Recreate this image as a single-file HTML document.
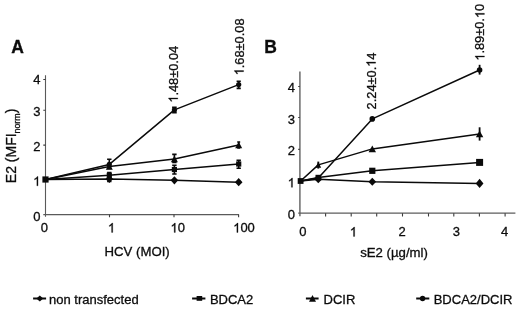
<!DOCTYPE html>
<html><head><meta charset="utf-8"><title>Figure</title>
<style>
html,body{margin:0;padding:0;background:#fff;}
body{width:520px;height:310px;overflow:hidden;font-family:"Liberation Sans",sans-serif;}
svg{display:block;filter:blur(0.35px);}
svg text{font-family:"Liberation Sans",sans-serif;fill:#0c0c0c;stroke:#0c0c0c;stroke-width:0.3px;}
</style></head><body>
<svg width="520" height="310" viewBox="0 0 520 310">
<rect width="520" height="310" fill="#fff"/>
<path d="M45.5 75.2V216.8M43.3 214.6H238.9" stroke="#5a5a5a" stroke-width="1.1" fill="none"/>
<path d="M43.3 79.5H45.5M43.3 110.2H45.5M43.3 145.1H45.5M43.3 179.5H45.5M109.5 214.6V217.2M174.0 214.6V217.2M238.6 214.6V217.2" stroke="#3c3c3c" stroke-width="1.1" fill="none"/>
<g transform="translate(40.4 84.1)"><text x="-7.23" y="0" font-size="13">4</text></g>
<g transform="translate(40.4 116)"><text x="-7.23" y="0" font-size="13">3</text></g>
<g transform="translate(40.4 150.9)"><text x="-7.23" y="0" font-size="13">2</text></g>
<g transform="translate(40.4 185.8)"><path transform="translate(-7.23 0) scale(0.006348 -0.006348)" d="M763 0H583V1147Q518 1085 412.5 1023Q307 961 223 930V1104Q374 1175 487 1276Q600 1377 647 1472H763Z" fill="#0c0c0c" stroke="#0c0c0c" stroke-width="0.3" vector-effect="non-scaling-stroke"/></g>
<g transform="translate(40.4 221.2)"><text x="-7.23" y="0" font-size="13">0</text></g>
<g transform="translate(44.3 232.4)"><text x="-3.61" y="0" font-size="13">0</text></g>
<g transform="translate(111.5 232.4)"><path transform="translate(-3.61 0) scale(0.006348 -0.006348)" d="M763 0H583V1147Q518 1085 412.5 1023Q307 961 223 930V1104Q374 1175 487 1276Q600 1377 647 1472H763Z" fill="#0c0c0c" stroke="#0c0c0c" stroke-width="0.3" vector-effect="non-scaling-stroke"/></g>
<g transform="translate(177.7 232.4)"><path transform="translate(-7.23 0) scale(0.006348 -0.006348)" d="M763 0H583V1147Q518 1085 412.5 1023Q307 961 223 930V1104Q374 1175 487 1276Q600 1377 647 1472H763Z" fill="#0c0c0c" stroke="#0c0c0c" stroke-width="0.3" vector-effect="non-scaling-stroke"/><text x="0.00" y="0" font-size="13">0</text></g>
<g transform="translate(244.0 232.4)"><path transform="translate(-10.84 0) scale(0.006348 -0.006348)" d="M763 0H583V1147Q518 1085 412.5 1023Q307 961 223 930V1104Q374 1175 487 1276Q600 1377 647 1472H763Z" fill="#0c0c0c" stroke="#0c0c0c" stroke-width="0.3" vector-effect="non-scaling-stroke"/><text x="-3.61" y="0" font-size="13">00</text></g>
<text x="104.5" y="255.9" font-size="13.2" text-anchor="start" font-weight="normal" >HCV (MOI)</text>
<text x="11.3" y="52.8" font-size="17.5" text-anchor="start" font-weight="bold" >A</text>
<text transform="translate(16.3 183.2) rotate(-90)" font-size="14">E2 (MFI<tspan font-size="8.8" dy="3.5">norm</tspan><tspan dy="-3.5">)</tspan></text>
<path d="M45.50 179.50L109.30 179.00L174.40 180.30L238.70 182.20" stroke="#0a0a0a" stroke-width="1.5" fill="none" stroke-linejoin="round"/>
<path d="M45.50 179.50L109.30 175.30L174.40 169.50L238.70 164.00" stroke="#0a0a0a" stroke-width="1.5" fill="none" stroke-linejoin="round"/>
<path d="M45.50 179.50L109.30 166.50L174.40 158.90L238.70 145.00" stroke="#0a0a0a" stroke-width="1.5" fill="none" stroke-linejoin="round"/>
<path d="M45.50 179.50L109.30 164.40L174.40 109.90L238.70 84.60" stroke="#0a0a0a" stroke-width="1.5" fill="none" stroke-linejoin="round"/>
<path d="M109.30 159.20V168.50M107.10 159.20H111.50M107.10 168.50H111.50" stroke="#0a0a0a" stroke-width="1.6" fill="none"/>
<path d="M109.30 172.50V181.50M107.10 172.50H111.50M107.10 181.50H111.50" stroke="#0a0a0a" stroke-width="1.6" fill="none"/>
<path d="M174.40 154.40V162.40M172.20 154.40H176.60M172.20 162.40H176.60" stroke="#0a0a0a" stroke-width="1.6" fill="none"/>
<path d="M174.40 165.20V174.00M172.20 165.20H176.60M172.20 174.00H176.60" stroke="#0a0a0a" stroke-width="1.6" fill="none"/>
<path d="M238.70 160.20V168.20M236.50 160.20H240.90M236.50 168.20H240.90" stroke="#0a0a0a" stroke-width="1.6" fill="none"/>
<path d="M238.70 81.20V88.40M236.60 81.20H240.80M236.60 88.40H240.80" stroke="#0a0a0a" stroke-width="1.6" fill="none"/>
<path d="M238.70 142.00V148.00M237.20 142.00H240.20M237.20 148.00H240.20" stroke="#0a0a0a" stroke-width="1.6" fill="none"/>
<path d="M174.40 107.20V112.60M172.10 107.20H176.70M172.10 112.60H176.70" stroke="#0a0a0a" stroke-width="1.6" fill="none"/>
<rect x="42.40" y="176.40" width="6.2" height="6.2" fill="#0a0a0a"/>
<path d="M105.50 179.00L109.30 174.90L113.10 179.00L109.30 183.10Z" fill="#0a0a0a"/>
<rect x="106.70" y="172.70" width="5.2" height="5.2" fill="#0a0a0a"/>
<path d="M105.80 169.80L109.30 163.20L112.80 169.80Z" fill="#0a0a0a"/>
<circle cx="109.30" cy="164.40" r="2.6" fill="#0a0a0a"/>
<path d="M170.60 180.30L174.40 176.20L178.20 180.30L174.40 184.40Z" fill="#0a0a0a"/>
<rect x="171.80" y="166.90" width="5.2" height="5.2" fill="#0a0a0a"/>
<path d="M170.90 162.20L174.40 155.60L177.90 162.20Z" fill="#0a0a0a"/>
<circle cx="174.40" cy="109.90" r="2.6" fill="#0a0a0a"/>
<path d="M234.90 182.20L238.70 178.10L242.50 182.20L238.70 186.30Z" fill="#0a0a0a"/>
<rect x="236.10" y="161.40" width="5.2" height="5.2" fill="#0a0a0a"/>
<path d="M235.20 148.30L238.70 141.70L242.20 148.30Z" fill="#0a0a0a"/>
<circle cx="238.70" cy="84.60" r="2.6" fill="#0a0a0a"/>
<g transform="translate(177.8 102.7) rotate(-90)"><path transform="translate(0.00 0) scale(0.006250 -0.006250)" d="M763 0H583V1147Q518 1085 412.5 1023Q307 961 223 930V1104Q374 1175 487 1276Q600 1377 647 1472H763Z" fill="#0c0c0c" stroke="#0c0c0c" stroke-width="0.3" vector-effect="non-scaling-stroke"/><text x="7.12" y="0" font-size="12.8">.48±0.04</text></g>
<g transform="translate(243.6 75.3) rotate(-90)"><path transform="translate(0.00 0) scale(0.006250 -0.006250)" d="M763 0H583V1147Q518 1085 412.5 1023Q307 961 223 930V1104Q374 1175 487 1276Q600 1377 647 1472H763Z" fill="#0c0c0c" stroke="#0c0c0c" stroke-width="0.3" vector-effect="non-scaling-stroke"/><text x="7.12" y="0" font-size="12.8">.68±0.08</text></g>
<path d="M299.9 71.6V216.2" stroke="#747474" stroke-width="1.6" fill="none"/>
<path d="M298.2 213.2H515.4" stroke="#5c5c5c" stroke-width="1.3" fill="none"/>
<path d="M298.2 86.5H299.9M298.2 117.5H299.9M298.2 149.4H299.9M298.2 181.1H299.9M325.6 213.2V216.6M351.2 213.2V216.6M376.7 213.2V216.6M402.5 213.2V216.6M428.5 213.2V216.6M453.8 213.2V216.6M479.4 213.2V216.6M505.1 213.2V216.6" stroke="#3c3c3c" stroke-width="1.1" fill="none"/>
<g transform="translate(294.9 91.9)"><text x="-7.23" y="0" font-size="13">4</text></g>
<g transform="translate(294.9 124.1)"><text x="-7.23" y="0" font-size="13">3</text></g>
<g transform="translate(294.9 155.2)"><text x="-7.23" y="0" font-size="13">2</text></g>
<g transform="translate(294.9 187.3)"><path transform="translate(-7.23 0) scale(0.006348 -0.006348)" d="M763 0H583V1147Q518 1085 412.5 1023Q307 961 223 930V1104Q374 1175 487 1276Q600 1377 647 1472H763Z" fill="#0c0c0c" stroke="#0c0c0c" stroke-width="0.3" vector-effect="non-scaling-stroke"/></g>
<g transform="translate(294.9 218.7)"><text x="-7.23" y="0" font-size="13">0</text></g>
<g transform="translate(302.75 236.4)"><text x="-3.61" y="0" font-size="13">0</text></g>
<g transform="translate(353.4 236.4)"><path transform="translate(-3.61 0) scale(0.006348 -0.006348)" d="M763 0H583V1147Q518 1085 412.5 1023Q307 961 223 930V1104Q374 1175 487 1276Q600 1377 647 1472H763Z" fill="#0c0c0c" stroke="#0c0c0c" stroke-width="0.3" vector-effect="non-scaling-stroke"/></g>
<g transform="translate(402.1 236.4)"><text x="-3.61" y="0" font-size="13">2</text></g>
<g transform="translate(456.3 236.4)"><text x="-3.61" y="0" font-size="13">3</text></g>
<g transform="translate(504.5 236.4)"><text x="-3.61" y="0" font-size="13">4</text></g>
<text x="360.2" y="257.2" font-size="13.2" text-anchor="start" font-weight="normal" >sE2 (µg/ml)</text>
<text x="264.2" y="52.8" font-size="17.5" text-anchor="start" font-weight="bold" >B</text>
<path d="M300.60 181.00L318.30 179.30L372.30 181.80L479.60 183.40" stroke="#0a0a0a" stroke-width="1.5" fill="none" stroke-linejoin="round"/>
<path d="M300.60 181.00L318.30 177.60L372.30 170.80L479.60 162.40" stroke="#0a0a0a" stroke-width="1.5" fill="none" stroke-linejoin="round"/>
<path d="M300.60 181.00L318.30 164.90L372.30 148.90L479.60 133.90" stroke="#0a0a0a" stroke-width="1.5" fill="none" stroke-linejoin="round"/>
<path d="M300.60 181.00L318.30 178.00L372.30 118.90L479.60 70.00" stroke="#0a0a0a" stroke-width="1.5" fill="none" stroke-linejoin="round"/>
<path d="M318.30 161.60V168.60" stroke="#0a0a0a" stroke-width="1.9" fill="none"/>
<path d="M479.60 127.30V140.60" stroke="#0a0a0a" stroke-width="1.8" fill="none"/>
<path d="M479.60 64.80V74.60" stroke="#0a0a0a" stroke-width="1.8" fill="none"/>
<rect x="297.70" y="178.10" width="5.8" height="5.8" fill="#0a0a0a"/>
<path d="M314.45 179.30L318.30 175.30L322.15 179.30L318.30 183.30Z" fill="#0a0a0a"/>
<rect x="315.50" y="174.80" width="5.6" height="5.6" fill="#0a0a0a"/>
<path d="M315.40 167.80L318.30 162.00L321.20 167.80Z" fill="#0a0a0a"/>
<circle cx="318.30" cy="178.00" r="2.8" fill="#0a0a0a"/>
<path d="M368.45 181.80L372.30 177.80L376.15 181.80L372.30 185.80Z" fill="#0a0a0a"/>
<rect x="369.20" y="167.70" width="6.2" height="6.2" fill="#0a0a0a"/>
<path d="M368.60 152.30L372.30 145.50L376.00 152.30Z" fill="#0a0a0a"/>
<circle cx="372.30" cy="118.90" r="2.8" fill="#0a0a0a"/>
<path d="M475.75 183.40L479.60 178.80L483.45 183.40L479.60 188.00Z" fill="#0a0a0a"/>
<rect x="476.10" y="158.90" width="7.0" height="7.0" fill="#0a0a0a"/>
<path d="M475.90 137.30L479.60 130.50L483.30 137.30Z" fill="#0a0a0a"/>
<circle cx="479.60" cy="70.00" r="2.8" fill="#0a0a0a"/>
<g transform="translate(375.6 109.4) rotate(-90)"><text x="0.00" y="0" font-size="12.8">2.24±0.</text><path transform="translate(42.61 0) scale(0.006250 -0.006250)" d="M763 0H583V1147Q518 1085 412.5 1023Q307 961 223 930V1104Q374 1175 487 1276Q600 1377 647 1472H763Z" fill="#0c0c0c" stroke="#0c0c0c" stroke-width="0.3" vector-effect="non-scaling-stroke"/><text x="49.73" y="0" font-size="12.8">4</text></g>
<g transform="translate(484.4 60.7) rotate(-90)"><path transform="translate(0.00 0) scale(0.006250 -0.006250)" d="M763 0H583V1147Q518 1085 412.5 1023Q307 961 223 930V1104Q374 1175 487 1276Q600 1377 647 1472H763Z" fill="#0c0c0c" stroke="#0c0c0c" stroke-width="0.3" vector-effect="non-scaling-stroke"/><text x="7.12" y="0" font-size="12.8">.89±0.</text><path transform="translate(42.61 0) scale(0.006250 -0.006250)" d="M763 0H583V1147Q518 1085 412.5 1023Q307 961 223 930V1104Q374 1175 487 1276Q600 1377 647 1472H763Z" fill="#0c0c0c" stroke="#0c0c0c" stroke-width="0.3" vector-effect="non-scaling-stroke"/><text x="49.73" y="0" font-size="12.8">0</text></g>
<path d="M33.1 298.5H46.1" stroke="#0a0a0a" stroke-width="2" fill="none"/>
<path d="M192.1 298.5H205.4" stroke="#0a0a0a" stroke-width="2" fill="none"/>
<path d="M305.9 298.5H318.6" stroke="#0a0a0a" stroke-width="2" fill="none"/>
<path d="M416.2 298.5H429.3" stroke="#0a0a0a" stroke-width="2" fill="none"/>
<path d="M36.40 298.50L39.80 295.40L43.20 298.50L39.80 301.60Z" fill="#0a0a0a"/>
<rect x="196.60" y="296.00" width="5.6" height="4.8" fill="#0a0a0a"/>
<path d="M309.00 301.70L312.50 295.10L316.00 301.70Z" fill="#0a0a0a"/>
<circle cx="422.60" cy="298.50" r="2.7" fill="#0a0a0a"/>
<text x="49.0" y="303.6" font-size="13" text-anchor="start" font-weight="normal" >non transfected</text>
<text x="209.9" y="303.5" font-size="13" text-anchor="start" font-weight="normal" >BDCA2</text>
<text x="323.6" y="303.5" font-size="13" text-anchor="start" font-weight="normal" >DCIR</text>
<text x="433.7" y="303.5" font-size="13" text-anchor="start" font-weight="normal" >BDCA2/DCIR</text>
</svg>
</body></html>
